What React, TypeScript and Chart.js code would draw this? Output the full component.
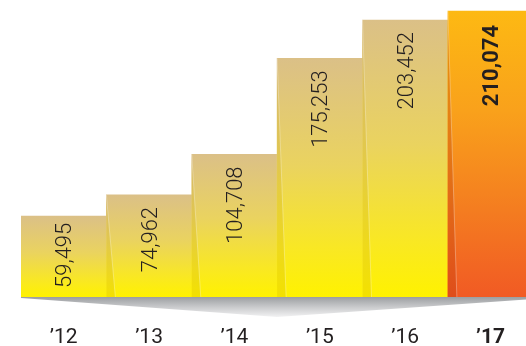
import React, { useEffect, useRef } from "react";
import { Chart, registerables } from "chart.js";

Chart.register(...registerables);

const categories = ["\u201912", "\u201913", "\u201914", "\u201915", "\u201916", "\u201917"];
const values = [59495, 74962, 104708, 175253, 203452, 210074];
const highlightIndex = 5;
const yMax = 218150;

const FONT = "Roboto, 'Open Sans', sans-serif";

const foldPlugin = {
  id: "foldsAndLabels",
  beforeDatasetsDraw(chart: any) {
    const { ctx, chartArea } = chart;
    const base = chartArea.bottom;
    const left = chartArea.left;
    const right = chartArea.right;
    const mid = left + (right - left) * 0.5;
    ctx.save();
    const g = ctx.createLinearGradient(0, base, 0, base + 20);
    g.addColorStop(0, "#9c9ea1");
    g.addColorStop(0.5, "#c9cacc");
    g.addColorStop(1, "#f2f2f3");
    ctx.fillStyle = g;
    ctx.beginPath();
    ctx.moveTo(left, base);
    ctx.lineTo(right, base);
    ctx.lineTo(right, base + 2);
    ctx.lineTo(mid, base + 20);
    ctx.lineTo(left, base + 1);
    ctx.closePath();
    ctx.fill();
    ctx.restore();
  },
  afterDatasetsDraw(chart: any) {
    const ctx = chart.ctx;
    const meta = chart.getDatasetMeta(0);
    meta.data.forEach((bar: any, i: number) => {
      const { x, y, base, width } = bar.getProps(["x", "y", "base", "width"], true);
      const left = x - width / 2;
      if (i > 0) {
        ctx.save();
        ctx.beginPath();
        ctx.moveTo(left, y);
        ctx.lineTo(left + 9, base);
        ctx.lineTo(left, base);
        ctx.closePath();
        ctx.fillStyle = i === highlightIndex ? "rgba(170,40,0,0.25)" : "rgba(190,150,0,0.18)";
        ctx.fill();
        ctx.beginPath();
        ctx.moveTo(left, y);
        ctx.lineTo(left + 9, base);
        ctx.strokeStyle = "rgba(255,255,255,0.3)";
        ctx.lineWidth = 1;
        ctx.stroke();
        ctx.restore();
      }
    });
    meta.data.forEach((bar: any, i: number) => {
      const { x, y, base } = bar.getProps(["x", "y", "base"], true);
      const bold = i === highlightIndex;
      const text = values[i].toLocaleString("en-US");
      ctx.save();
      ctx.font = `${bold ? "bold " : "300 "}22px ${FONT}`;
      const len = ctx.measureText(text).width;
      let start = y + (bold ? 14 : 12);
      if (start + len > base - 9) start = base - 9 - len;
      ctx.translate(x + 2, start);
      ctx.rotate(-Math.PI / 2);
      ctx.textAlign = "right";
      ctx.textBaseline = "middle";
      ctx.fillStyle = "#231f20";
      ctx.fillText(text, 0, 0);
      ctx.restore();
    });
  },
};

function barColor(c: any) {
  const chart = c.chart;
  const { ctx, chartArea, scales } = chart;
  const hi = c.dataIndex === highlightIndex;
  if (!chartArea || c.type !== "data" || !scales.y) return hi ? "#f7941d" : "#efd85a";
  const top = scales.y.getPixelForValue(c.parsed.y);
  const bottom = scales.y.getPixelForValue(0);
  const g = ctx.createLinearGradient(0, top, 0, bottom);
  if (hi) {
    g.addColorStop(0, "#fdb913");
    g.addColorStop(0.35, "#f9a11b");
    g.addColorStop(0.7, "#f47c20");
    g.addColorStop(1, "#f15a24");
  } else {
    g.addColorStop(0, "#dbc087");
    g.addColorStop(0.45, "#ead35f");
    g.addColorStop(0.8, "#f9e823");
    g.addColorStop(1, "#fff200");
  }
  return g;
}

export default function App() {
  const ref = useRef<HTMLCanvasElement>(null);
  useEffect(() => {
    if (!ref.current) return;
    const chart = new Chart(ref.current, {
      type: "bar",
      data: {
        labels: categories,
        datasets: [
          {
            data: values,
            backgroundColor: barColor as any,
            borderWidth: 0,
            barPercentage: 1,
            categoryPercentage: 1,
          },
        ],
      },
      options: {
        responsive: false,
        animation: false,
        devicePixelRatio: 1,
        layout: { padding: { left: 21, right: 0, top: 0, bottom: 0 } },
        plugins: { legend: { display: false }, tooltip: { enabled: false } },
        scales: {
          y: { display: false, min: 0, max: yMax },
          x: {
            grid: { display: false, drawTicks: false },
            border: { display: false },
            ticks: {
              padding: 30,
              color: "#231f20",
              font: (c: any) => ({
                family: FONT,
                size: 21,
                lineHeight: 1,
                weight: c.index === highlightIndex ? "bold" : "normal",
              }),
            } as any,
          },
        },
      },
      plugins: [foldPlugin],
    });
    return () => chart.destroy();
  }, []);
  return (
    <div style={{ position: "absolute", left: 0, top: 0, width: 526, height: 346, overflow: "hidden", background: "#fff" }}>
      <canvas ref={ref} width={535} height={378} style={{ width: 535, height: 378, display: "block" }} />
    </div>
  );
}
